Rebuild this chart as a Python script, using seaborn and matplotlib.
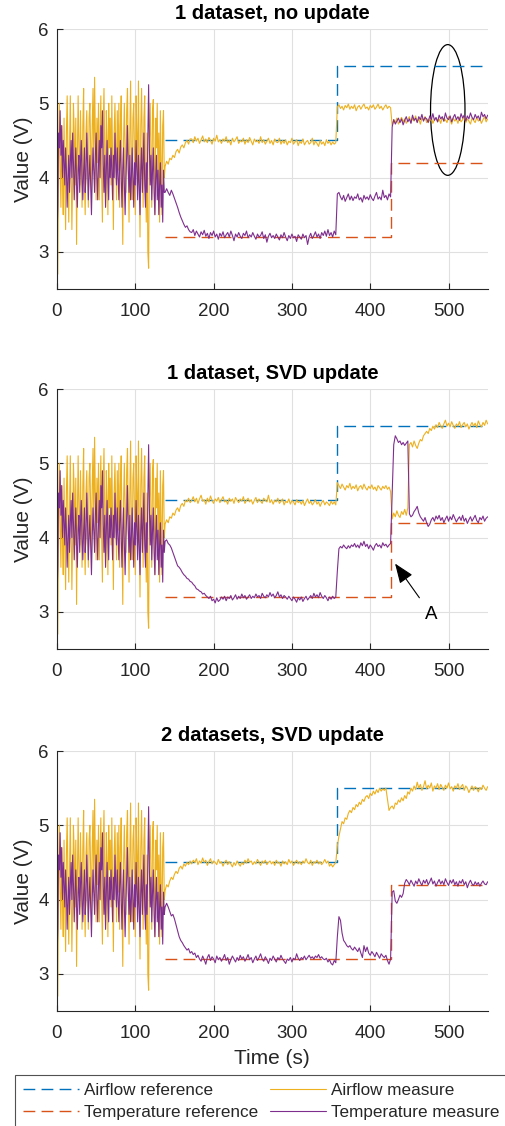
import numpy as np
import pandas as pd
import matplotlib
matplotlib.use("Agg")
import matplotlib.pyplot as plt
import seaborn as sns
from matplotlib.patches import Ellipse

# ---------------- data ----------------
titles = ["1 dataset, no update", "1 dataset, SVD update", "2 datasets, SVD update"]
xticks = [0, 100, 200, 300, 400, 500]
yticks = [3, 4, 5, 6]

# step references
air_ref_t = [138, 357, 357, 550]
air_ref_v = [4.5, 4.5, 5.5, 5.5]
temp_ref_t = [138, 426, 426, 550]
temp_ref_v = [3.2, 3.2, 4.2, 4.2]

# identification phase (1 s samples, t = 0..137), same excitation in all runs
ident_airflow = [
    3.4, 2.7, 4.2, 5.0, 4.1, 3.6, 4.7, 4.0, 3.5, 4.8,
    3.9, 3.3, 4.6, 5.1, 4.3, 3.4, 4.4, 5.1, 4.2, 3.3,
    4.0, 5.0, 4.6, 3.9, 4.8, 3.1, 4.3, 5.1, 4.4, 3.9,
    4.9, 4.2, 3.6, 4.7, 5.2, 4.0, 3.5, 4.6, 4.9, 4.3,
    3.6, 4.8, 5.0, 4.4, 3.8, 4.7, 5.2, 4.1, 5.35, 4.5,
    3.7, 4.8, 4.2, 5.0, 3.7, 4.6, 5.1, 4.0, 3.4, 4.7,
    5.2, 4.3, 3.6, 4.9, 4.5, 3.5, 5.0, 4.4, 4.8, 3.9,
    5.1, 4.2, 3.3, 4.6, 5.0, 4.4, 3.7, 4.9, 4.1, 5.0,
    3.6, 4.7, 5.1, 4.0, 3.1, 4.5, 5.0, 4.3, 3.8, 4.9,
    5.2, 4.2, 3.4, 4.6, 5.3, 4.1, 3.7, 4.8, 5.0, 4.3,
    3.5, 5.1, 4.6, 3.9, 5.3, 4.2, 3.2, 4.7, 5.2, 4.4,
    3.6, 4.8, 5.1, 4.0, 3.4, 4.6, 3.0, 2.78, 4.5, 5.0,
    4.3, 3.6, 4.9, 5.05, 4.2, 3.5, 4.8, 4.4, 5.0, 3.8,
    4.6, 3.4, 4.9, 4.2, 3.5, 4.7, 4.9, 4.0,
]
ident_temp = [
    3.2, 3.6, 4.6, 4.4, 4.9, 4.3, 4.7, 4.0, 4.5, 4.2,
    3.9, 4.4, 4.1, 3.6, 4.0, 4.3, 3.8, 4.2, 4.5, 4.0,
    4.6, 4.2, 3.7, 4.1, 4.4, 3.9, 3.6, 4.1, 4.3, 3.8,
    4.2, 4.5, 4.0, 3.7, 4.1, 4.4, 3.8, 4.0, 4.6, 4.2,
    3.7, 4.0, 4.3, 3.9, 3.5, 4.0, 4.4, 4.1, 3.8, 4.3,
    4.6, 4.0, 3.7, 4.2, 4.5, 4.0, 4.7, 4.4, 4.9, 4.2,
    3.8, 4.3, 3.6, 4.1, 4.5, 4.0, 3.7, 4.3, 4.0, 4.4,
    4.1, 3.7, 4.3, 4.0, 4.6, 4.2, 3.9, 4.4, 4.0, 3.7,
    4.2, 4.5, 4.0, 3.6, 4.1, 4.4, 3.9, 3.5, 4.0, 4.3,
    4.7, 4.1, 3.8, 4.3, 3.7, 4.0, 4.4, 4.0, 3.6, 4.2,
    3.9, 4.5, 4.1, 3.7, 4.3, 3.9, 3.5, 4.1, 4.4, 3.8,
    4.2, 4.6, 3.9, 3.6, 4.2, 3.8, 4.5, 5.25, 4.4, 3.9,
    4.3, 3.7, 4.1, 4.4, 3.8, 3.5, 4.0, 4.3, 3.7, 4.1,
    3.5, 3.9, 4.2, 3.6, 3.9, 3.4, 4.1, 3.8,
]

# closed-loop phase (2 s samples, t = 138..550)
p1_airflow = [
    4.15, 4.22, 4.18, 4.26, 4.24, 4.3, 4.27, 4.35, 4.38, 4.33,
    4.41, 4.44, 4.4, 4.47, 4.5, 4.45, 4.52,
    4.52, 4.47, 4.55, 4.49, 4.53, 4.46, 4.51, 4.56, 4.48, 4.52,
    4.47, 4.54, 4.5, 4.45, 4.53, 4.49, 4.57, 4.48, 4.51, 4.46,
    4.52, 4.49, 4.55, 4.47, 4.5, 4.44, 4.53, 4.48, 4.51, 4.55,
    4.46, 4.5, 4.48, 4.53, 4.45, 4.51, 4.47, 4.54, 4.49, 4.44,
    4.52, 4.48, 4.5, 4.46, 4.55, 4.47, 4.51, 4.45, 4.49, 4.53,
    4.46, 4.5, 4.44, 4.52, 4.48, 4.47, 4.53, 4.45, 4.5, 4.46,
    4.51, 4.44, 4.49, 4.47, 4.53, 4.45, 4.48, 4.51, 4.43, 4.49,
    4.46, 4.52, 4.44, 4.48, 4.5, 4.45, 4.47, 4.53, 4.44, 4.49,
    4.46, 4.42, 4.5, 4.45, 4.48, 4.43, 4.51, 4.46, 4.49, 4.44,
    4.48, 4.45, 4.47,
    4.95, 4.98, 4.93, 4.96, 4.91, 4.97, 4.94, 4.99, 4.92, 4.96,
    4.93, 4.98, 4.9, 4.95, 4.97, 4.92, 4.96, 4.99, 4.93, 4.95,
    4.91, 4.97, 4.94, 4.98, 4.92, 4.95, 4.99, 4.93, 4.96, 4.91,
    4.95, 4.98, 4.93, 4.96, 4.94,
    4.7, 4.78, 4.74, 4.8, 4.72, 4.77, 4.81, 4.75, 4.79, 4.73,
    4.78, 4.82, 4.74, 4.8, 4.76, 4.83, 4.75, 4.79, 4.72, 4.8,
    4.77, 4.82, 4.74, 4.79, 4.76, 4.81, 4.73, 4.78, 4.8, 4.75,
    4.79, 4.73, 4.81, 4.76, 4.78, 4.74, 4.82, 4.77, 4.72, 4.8,
    4.76, 4.79, 4.73, 4.81, 4.75, 4.78, 4.83, 4.74, 4.79, 4.76,
    4.72, 4.8, 4.77, 4.74, 4.81, 4.76, 4.79, 4.73, 4.78, 4.82,
    4.75, 4.79,
]
p1_temp = [
    3.8, 3.85, 3.8, 3.76, 3.83, 3.78, 3.72, 3.66, 3.6, 3.53,
    3.47, 3.42, 3.37, 3.33, 3.35, 3.3, 3.27,
    3.26, 3.3, 3.22, 3.28, 3.24, 3.2, 3.27, 3.23, 3.29, 3.21,
    3.25, 3.18, 3.26, 3.22, 3.28, 3.2, 3.24, 3.17, 3.25, 3.21,
    3.27, 3.19, 3.23, 3.26, 3.2, 3.28, 3.22, 3.15, 3.24, 3.2,
    3.26, 3.21, 3.18, 3.25, 3.22, 3.28, 3.19, 3.23, 3.2, 3.26,
    3.21, 3.17, 3.24, 3.2, 3.22, 3.27, 3.18, 3.23, 3.13, 3.21,
    3.25, 3.19, 3.22, 3.18, 3.24, 3.2, 3.16, 3.23, 3.19, 3.26,
    3.2, 3.15, 3.22, 3.18, 3.24, 3.19, 3.21, 3.14, 3.23, 3.2,
    3.17, 3.24, 3.19, 3.22, 3.1, 3.2, 3.25, 3.18, 3.22, 3.27,
    3.2, 3.24, 3.18, 3.26, 3.22, 3.28, 3.21, 3.3, 3.22, 3.26,
    3.2, 3.28, 3.23,
    3.78, 3.8, 3.74, 3.7, 3.76, 3.68, 3.73, 3.78, 3.7, 3.75,
    3.69, 3.74, 3.72, 3.78, 3.7, 3.73, 3.67, 3.76, 3.71, 3.74,
    3.7, 3.77, 3.72, 3.69, 3.75, 3.8, 3.71, 3.74, 3.7, 3.83,
    3.73, 3.76, 3.7, 3.78, 3.74,
    4.68, 4.78, 4.72, 4.76, 4.8, 4.74, 4.79, 4.71, 4.77, 4.82,
    4.75, 4.79, 4.73, 4.84, 4.77, 4.8, 4.74, 4.82, 4.78, 4.85,
    4.76, 4.81, 4.79, 4.74, 4.83, 4.78, 4.86, 4.77, 4.81, 4.75,
    4.84, 4.79, 4.82, 4.76, 4.87, 4.8, 4.78, 4.83, 4.75, 4.81,
    4.85, 4.78, 4.82, 4.77, 4.86, 4.8, 4.84, 4.76, 4.83, 4.79,
    4.87, 4.81, 4.78, 4.85, 4.8, 4.83, 4.77, 4.88, 4.82, 4.85,
    4.79, 4.84,
]
p2_airflow = [
    4.18, 4.24, 4.2, 4.28, 4.26, 4.33, 4.3, 4.37, 4.4, 4.35,
    4.43, 4.46, 4.42, 4.5, 4.48, 4.53, 4.47,
    4.5, 4.55, 4.48, 4.53, 4.46, 4.52, 4.57, 4.49, 4.51, 4.45,
    4.53, 4.48, 4.56, 4.5, 4.46, 4.52, 4.49, 4.54, 4.47, 4.51,
    4.55, 4.48, 4.5, 4.45, 4.53, 4.49, 4.52, 4.46, 4.54, 4.5,
    4.47, 4.52, 4.49, 4.55, 4.46, 4.5, 4.53, 4.48, 4.51, 4.45,
    4.5, 4.54, 4.47, 4.52, 4.49, 4.46, 4.53, 4.5, 4.48, 4.57,
    4.47, 4.51, 4.45, 4.5, 4.48, 4.53, 4.46, 4.49, 4.52, 4.44,
    4.49, 4.47, 4.52, 4.45, 4.5, 4.48, 4.44, 4.51, 4.47, 4.49,
    4.45, 4.5, 4.43, 4.48, 4.52, 4.46, 4.49, 4.44, 4.47, 4.51,
    4.45, 4.48, 4.42, 4.47, 4.5, 4.44, 4.48, 4.46, 4.43, 4.49,
    4.45, 4.48, 4.44,
    4.74, 4.7, 4.66, 4.72, 4.68, 4.64, 4.7, 4.67, 4.73, 4.65,
    4.69, 4.66, 4.71, 4.63, 4.68, 4.7, 4.65, 4.72, 4.67, 4.64,
    4.69, 4.66, 4.71, 4.65, 4.68, 4.63, 4.7, 4.67, 4.64, 4.69,
    4.66, 4.7, 4.65, 4.68, 4.62,
    4.25, 4.33, 4.28, 4.36, 4.3, 4.27, 4.35, 4.31, 4.38, 4.3,
    4.4,
    5.25, 5.28, 5.22, 5.3, 5.24, 5.2, 5.27, 5.32, 5.3, 5.37,
    5.4,
    5.43, 5.4, 5.47, 5.44, 5.5, 5.46, 5.52, 5.48, 5.55, 5.5,
    5.47, 5.53, 5.58, 5.5, 5.54, 5.49, 5.56, 5.51, 5.47, 5.53,
    5.5, 5.56, 5.48, 5.52, 5.55, 5.49, 5.53, 5.46, 5.51, 5.55,
    5.5, 5.54, 5.48, 5.57, 5.52, 5.49, 5.55, 5.51, 5.58, 5.53,
]
p2_temp = [
    3.95, 3.97, 3.92, 3.9, 3.86, 3.8, 3.74, 3.68, 3.62, 3.6,
    3.57, 3.53, 3.5, 3.48, 3.45, 3.44, 3.41,
    3.4, 3.37, 3.35, 3.31, 3.3, 3.28, 3.27, 3.24, 3.25, 3.22,
    3.2, 3.18, 3.21, 3.15, 3.17, 3.12, 3.19, 3.14, 3.16, 3.2,
    3.17, 3.21, 3.15, 3.2, 3.18, 3.22, 3.16, 3.19, 3.23, 3.17,
    3.21, 3.18, 3.24, 3.19, 3.22, 3.17, 3.2, 3.23, 3.18, 3.21,
    3.19, 3.24, 3.2, 3.22, 3.18, 3.25, 3.21, 3.19, 3.23, 3.2,
    3.26, 3.21, 3.24, 3.19, 3.22, 3.27, 3.2, 3.23, 3.18, 3.22,
    3.2, 3.17, 3.21, 3.18, 3.15, 3.2, 3.17, 3.13, 3.19, 3.16,
    3.2, 3.14, 3.18, 3.21, 3.16, 3.19, 3.22, 3.18, 3.25, 3.2,
    3.23, 3.19, 3.26, 3.21, 3.18, 3.22, 3.19, 3.15, 3.2, 3.17,
    3.21, 3.18, 3.2,
    3.55, 3.85, 3.88, 3.86, 3.9, 3.87, 3.85, 3.89, 3.86, 3.9,
    3.88, 3.92, 3.87, 3.9, 3.86, 3.93, 3.89, 3.95, 3.88, 3.91,
    3.85, 3.9, 3.87, 3.83, 3.89, 3.92, 3.88, 3.9, 3.86, 3.93,
    3.89, 3.91, 3.87, 3.9, 3.92,
    4.6, 5.25, 5.37, 5.33, 5.28, 5.3, 5.25, 5.28, 5.24, 5.27,
    5.3,
    4.32, 4.28, 4.3, 4.35, 4.38, 4.42, 4.33, 4.28, 4.25, 4.22,
    4.27,
    4.2, 4.15, 4.18, 4.24, 4.27, 4.22, 4.29, 4.25, 4.3, 4.23,
    4.27, 4.2, 4.25, 4.29, 4.22, 4.28, 4.24, 4.31, 4.26, 4.21,
    4.25, 4.28, 4.23, 4.3, 4.22, 4.26, 4.19, 4.24, 4.28, 4.22,
    4.26, 4.3, 4.23, 4.2, 4.27, 4.24, 4.29, 4.22, 4.26, 4.28,
]
p3_airflow = [
    4.12, 4.2, 4.17, 4.25, 4.3, 4.27, 4.34, 4.38, 4.35, 4.42,
    4.45, 4.41, 4.48, 4.45, 4.5, 4.47, 4.52,
    4.48, 4.53, 4.5, 4.55, 4.47, 4.52, 4.49, 4.56, 4.5, 4.53,
    4.46, 4.51, 4.55, 4.48, 4.52, 4.5, 4.47, 4.54, 4.49, 4.51,
    4.45, 4.5, 4.53, 4.47, 4.51, 4.48, 4.44, 4.5, 4.46, 4.52,
    4.48, 4.45, 4.5, 4.47, 4.53, 4.49, 4.55, 4.5, 4.52, 4.47,
    4.51, 4.48, 4.54, 4.5, 4.46, 4.52, 4.49, 4.53, 4.47, 4.5,
    4.52, 4.48, 4.51, 4.46, 4.53, 4.49, 4.5, 4.45, 4.52, 4.48,
    4.51, 4.47, 4.54, 4.49, 4.52, 4.46, 4.5, 4.53, 4.48, 4.51,
    4.47, 4.52, 4.49, 4.55, 4.5, 4.48, 4.53, 4.46, 4.51, 4.49,
    4.53, 4.48, 4.51, 4.47, 4.5, 4.54, 4.49, 4.52, 4.45, 4.48,
    4.44, 4.47, 4.5,
    4.72, 4.85, 4.95, 5.05, 5.02, 5.1, 5.08, 5.16, 5.2, 5.17,
    5.24, 5.21, 5.28, 5.25, 5.31, 5.28, 5.35, 5.32, 5.38, 5.4,
    5.36, 5.43, 5.4, 5.46, 5.42, 5.48, 5.44, 5.5, 5.46, 5.49,
    5.47, 5.5, 5.35, 5.2, 5.24,
    5.26, 5.22, 5.3, 5.28, 5.34, 5.31, 5.37, 5.33, 5.4, 5.36,
    5.45, 5.42, 5.5, 5.46, 5.53, 5.48, 5.58, 5.5, 5.55, 5.47,
    5.52, 5.6, 5.49, 5.54, 5.5, 5.57, 5.46, 5.53, 5.5, 5.56,
    5.48, 5.55, 5.51, 5.47, 5.54, 5.5, 5.57, 5.49, 5.52, 5.46,
    5.53, 5.5, 5.56, 5.48, 5.52, 5.55, 5.47, 5.53, 5.5, 5.44,
    5.49, 5.53, 5.47, 5.52, 5.5, 5.45, 5.51, 5.48, 5.54, 5.5,
    5.47, 5.52,
]
p3_temp = [
    3.9, 3.95, 3.9, 3.84, 3.78, 3.8, 3.74, 3.66, 3.58, 3.5,
    3.45, 3.42, 3.38, 3.35, 3.32, 3.34, 3.28,
    3.3, 3.26, 3.28, 3.22, 3.25, 3.2, 3.17, 3.24, 3.19, 3.13,
    3.22, 3.26, 3.18, 3.23, 3.2, 3.15, 3.24, 3.19, 3.22, 3.17,
    3.21, 3.26, 3.18, 3.22, 3.13, 3.19, 3.24, 3.2, 3.16, 3.22,
    3.18, 3.25, 3.2, 3.23, 3.17, 3.21, 3.26, 3.19, 3.22, 3.15,
    3.2, 3.24, 3.18, 3.22, 3.27, 3.2, 3.17, 3.23, 3.19, 3.14,
    3.21, 3.18, 3.24, 3.2, 3.16, 3.22, 3.19, 3.25, 3.2, 3.17,
    3.14, 3.2, 3.18, 3.22, 3.16, 3.21, 3.19, 3.27, 3.21, 3.18,
    3.22, 3.2, 3.24, 3.19, 3.22, 3.25, 3.21, 3.23, 3.2, 3.24,
    3.22, 3.26, 3.21, 3.23, 3.2, 3.19, 3.21, 3.16, 3.19, 3.14,
    3.12, 3.18, 3.15,
    3.5, 3.77, 3.72, 3.55, 3.45, 3.42, 3.38, 3.36, 3.38, 3.34,
    3.32, 3.36, 3.33, 3.3, 3.35, 3.28, 3.22, 3.38, 3.3, 3.36,
    3.28, 3.25, 3.3, 3.27, 3.23, 3.29, 3.25, 3.21, 3.27, 3.24,
    3.22, 3.25, 3.18, 3.13, 3.2,
    4.1, 4.12, 3.98, 3.95, 4.0, 4.06, 4.03, 4.08, 4.22, 4.27,
    4.24, 4.2, 4.26, 4.22, 4.18, 4.25, 4.21, 4.28, 4.23, 4.19,
    4.26, 4.22, 4.27, 4.2, 4.24, 4.29, 4.21, 4.25, 4.18, 4.23,
    4.27, 4.21, 4.25, 4.2, 4.28, 4.23, 4.19, 4.26, 4.22, 4.27,
    4.2, 4.24, 4.18, 4.25, 4.22, 4.27, 4.2, 4.24, 4.16, 4.22,
    4.26, 4.21, 4.19, 4.24, 4.2, 4.23, 4.18, 4.22, 4.25, 4.21,
    4.2, 4.24,
]

airflow_runs = [p1_airflow, p2_airflow, p3_airflow]
temp_runs = [p1_temp, p2_temp, p3_temp]

# ---------------- style ----------------
C_AREF = "#0072BD"
C_TREF = "#D95319"
C_AIR = "#EDB120"
C_TEMP = "#7E2F8E"
TXT = "#262626"

sns.set_style("ticks")
plt.rcParams["font.family"] = ["Liberation Sans", "DejaVu Sans"]
plt.rcParams["text.color"] = TXT
plt.rcParams["axes.labelcolor"] = TXT

fig = plt.figure(figsize=(5.05, 11.26), dpi=100)

W, H = 505.0, 1126.0
left_px, right_px = 57.0, 487.7
panel_px = [(29, 289), (389, 649), (751, 1011)]

dash = (0, (8.5, 4.5))
ident_t = np.arange(len(ident_airflow))

for i, (top, bot) in enumerate(panel_px):
    ax = fig.add_axes([left_px / W, 1 - bot / H, (right_px - left_px) / W, (bot - top) / H])

    ctrl_air = airflow_runs[i]
    ctrl_temp = temp_runs[i]
    t_air = np.concatenate([ident_t, np.linspace(138, 550, len(ctrl_air))])
    t_temp = np.concatenate([ident_t, np.linspace(138, 550, len(ctrl_temp))])
    df_air = pd.DataFrame({"t": t_air, "v": list(ident_airflow) + list(ctrl_air)})
    df_temp = pd.DataFrame({"t": t_temp, "v": list(ident_temp) + list(ctrl_temp)})

    sns.lineplot(x=air_ref_t, y=air_ref_v, ax=ax, color=C_AREF, lw=1.0,
                 linestyle=dash, estimator=None, sort=False, label="Airflow reference")
    sns.lineplot(x=temp_ref_t, y=temp_ref_v, ax=ax, color=C_TREF, lw=1.0,
                 linestyle=dash, estimator=None, sort=False, label="Temperature reference")
    sns.lineplot(data=df_air, x="t", y="v", ax=ax, color=C_AIR, lw=0.8,
                 estimator=None, sort=False, label="Airflow measure")
    sns.lineplot(data=df_temp, x="t", y="v", ax=ax, color=C_TEMP, lw=0.8,
                 estimator=None, sort=False, label="Temperature measure")

    handles, labels = ax.get_legend_handles_labels()
    if ax.get_legend() is not None:
        ax.get_legend().remove()

    ax.set_xlim(0, 550)
    ax.set_ylim(2.5, 6)
    ax.set_xticks(xticks)
    ax.set_yticks(yticks)
    ax.grid(True, color="#e0e0e0", lw=0.8)
    ax.set_axisbelow(True)
    for s in ["top", "right"]:
        ax.spines[s].set_visible(False)
    for s in ["left", "bottom"]:
        ax.spines[s].set_color(TXT)
        ax.spines[s].set_linewidth(0.8)
    ax.tick_params(direction="in", length=4, width=0.8, colors=TXT, labelsize=13.5)
    ax.tick_params(axis="x", pad=10)
    ax.tick_params(axis="y", pad=6)
    ax.set_title(titles[i], fontsize=14.5, fontweight="bold", pad=7, color="black")
    ax.set_ylabel("Value (V)", fontsize=15, labelpad=4)
    if i == 2:
        ax.set_xlabel("Time (s)", fontsize=15, labelpad=5)
    else:
        ax.set_xlabel("")

    if i == 0:
        ax.add_patch(Ellipse((499, 4.91), width=44, height=1.76, fill=False,
                             edgecolor="black", lw=0.9))
    if i == 1:
        ax.annotate("A", xy=(431.7, 3.65), xytext=(477.6, 2.97), fontsize=13.5,
                    ha="center", va="center", color="black",
                    arrowprops=dict(arrowstyle="-|>,head_length=0.9,head_width=0.35",
                                    color="black", lw=0.8, shrinkA=4, shrinkB=0))

fig.legend(handles, labels, loc="upper left", bbox_to_anchor=(15 / W, 1 - 1075 / H),
           ncol=2, frameon=True, fancybox=False, edgecolor=TXT, fontsize=12.3,
           handlelength=3.27, handletextpad=0.3, columnspacing=0.7,
           borderpad=0.45, labelspacing=0.42, borderaxespad=0)
fig.legends[0].get_frame().set_linewidth(0.8)

fig.savefig("out.png", dpi=100)
